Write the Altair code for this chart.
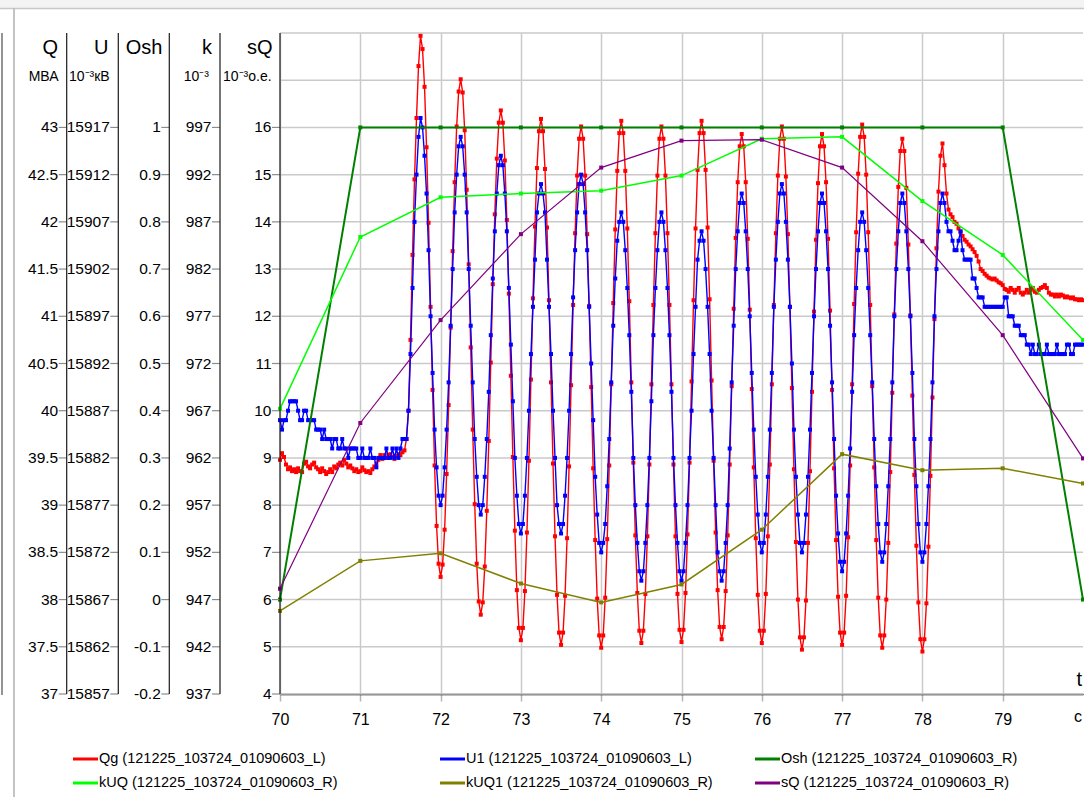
import altair as alt
import numpy as np
import pandas as pd

# ---------------- data ----------------
DT = 0.025          # sampling step of Qg and U1, s
T_START = 70

# Qg, MBA (left scale Q)
qg = [
    39.48, 39.55, 39.51, 39.43, 39.38, 39.40, 39.36, 39.38, 39.35, 39.39,
    39.36, 39.35, 39.44, 39.46, 39.41, 39.39, 39.43, 39.45, 39.40, 39.38,
    39.35, 39.39, 39.36, 39.33, 39.35, 39.38, 39.35, 39.41, 39.39, 39.43,
    39.45, 39.42, 39.48, 39.44, 39.40, 39.42, 39.39, 39.36, 39.38, 39.35,
    39.36, 39.40, 39.37, 39.35, 39.36, 39.34, 39.38, 39.41, 39.44, 39.48,
    39.53, 39.49, 39.53, 39.50, 39.53, 39.54, 39.51, 39.49, 39.52, 39.54,
    39.53, 39.56, 39.58, 39.70, 40.00, 40.75, 41.65, 42.45, 43.10, 43.65,
    43.97, 43.83, 43.43, 42.79, 41.99, 41.10, 40.22, 39.42, 38.78, 38.38,
    38.24, 38.37, 38.74, 39.33, 40.06, 40.88, 41.69, 42.42, 43.01, 43.38,
    43.51, 43.37, 42.97, 42.34, 41.55, 40.67, 39.80, 39.01, 38.38, 37.98,
    37.84, 37.97, 38.35, 38.94, 39.68, 40.51, 41.34, 42.08, 42.67, 43.05,
    43.18, 43.05, 42.65, 42.02, 41.24, 40.37, 39.51, 38.73, 38.10, 37.70,
    37.57, 37.70, 38.09, 38.71, 39.47, 40.33, 41.19, 41.95, 42.57, 42.96,
    43.09, 42.96, 42.56, 41.94, 41.17, 40.30, 39.44, 38.67, 38.05, 37.65,
    37.52, 37.65, 38.04, 38.65, 39.41, 40.27, 41.12, 41.88, 42.49, 42.88,
    43.01, 42.88, 42.49, 41.87, 41.11, 40.25, 39.39, 38.63, 38.01, 37.62,
    37.49, 37.62, 38.02, 38.64, 39.42, 40.28, 41.14, 41.92, 42.54, 42.94,
    43.07, 42.94, 42.54, 41.93, 41.16, 40.30, 39.45, 38.68, 38.07, 37.67,
    37.54, 37.67, 38.06, 38.67, 39.43, 40.28, 41.12, 41.88, 42.49, 42.88,
    43.01, 42.88, 42.49, 41.88, 41.12, 40.28, 39.43, 38.67, 38.06, 37.68,
    37.55, 37.68, 38.07, 38.69, 39.45, 40.31, 41.17, 41.93, 42.55, 42.94,
    43.07, 42.94, 42.55, 41.94, 41.18, 40.32, 39.47, 38.71, 38.10, 37.71,
    37.58, 37.71, 38.09, 38.68, 39.43, 40.26, 41.08, 41.83, 42.42, 42.80,
    42.93, 42.80, 42.42, 41.82, 41.07, 40.23, 39.40, 38.65, 38.05, 37.67,
    37.54, 37.67, 38.06, 38.67, 39.43, 40.28, 41.12, 41.88, 42.49, 42.88,
    43.01, 42.88, 42.48, 41.87, 41.10, 40.24, 39.38, 38.61, 38.00, 37.60,
    37.47, 37.60, 37.99, 38.60, 39.36, 40.20, 41.05, 41.81, 42.41, 42.80,
    42.93, 42.80, 42.42, 41.82, 41.06, 40.22, 39.39, 38.63, 38.03, 37.65,
    37.52, 37.65, 38.04, 38.66, 39.42, 40.28, 41.13, 41.89, 42.51, 42.90,
    43.03, 42.90, 42.50, 41.89, 41.12, 40.26, 39.40, 38.63, 38.02, 37.62,
    37.49, 37.62, 38.00, 38.60, 39.35, 40.19, 41.02, 41.77, 42.37, 42.75,
    42.88, 42.75, 42.36, 41.76, 41.01, 40.16, 39.32, 38.57, 37.97, 37.58,
    37.45, 37.58, 37.96, 38.56, 39.31, 40.14, 40.97, 41.72, 42.32, 42.70,
    42.83, 42.60, 42.30, 42.13, 42.08, 42.05, 42.00, 41.98, 41.93, 41.89,
    41.85, 41.81, 41.79, 41.76, 41.74, 41.71, 41.68, 41.64, 41.58, 41.50,
    41.48, 41.45, 41.43, 41.41, 41.40, 41.39, 41.40, 41.38, 41.36, 41.35,
    41.33, 41.29, 41.28, 41.26, 41.30, 41.28, 41.25, 41.28, 41.30, 41.25,
    41.23, 41.25, 41.28, 41.25, 41.28, 41.30, 41.26, 41.25, 41.28, 41.30,
    41.31, 41.33, 41.30, 41.25, 41.23, 41.23, 41.21, 41.23, 41.21, 41.23,
    41.22, 41.20, 41.21, 41.20, 41.19, 41.20, 41.18, 41.18, 41.17, 41.18,
    41.17,
]

# U1, 10^-3 kV (left scale U)
u1 = [
    15886, 15885, 15886, 15886, 15887, 15888, 15888, 15888, 15888, 15887,
    15886, 15886, 15887, 15887, 15886, 15886, 15886, 15886, 15885, 15885,
    15885, 15884, 15885, 15884, 15884, 15884, 15883, 15884, 15884, 15883,
    15883, 15884, 15883, 15883, 15882, 15883, 15883, 15883, 15883, 15882,
    15882, 15883, 15882, 15882, 15882, 15883, 15882, 15882, 15881, 15882,
    15882, 15882, 15882, 15883, 15882, 15882, 15883, 15882, 15883, 15882,
    15883, 15884, 15884, 15884, 15887, 15893, 15900, 15907, 15912, 15916,
    15918, 15917, 15914, 15910, 15904, 15897, 15891, 15885, 15881, 15878,
    15877, 15878, 15881, 15885, 15890, 15896, 15902, 15908, 15912, 15915,
    15916, 15915, 15912, 15908, 15902, 15896, 15890, 15884, 15880, 15877,
    15876, 15877, 15880, 15884, 15889, 15895, 15901, 15906, 15910, 15913,
    15914, 15913, 15910, 15906, 15900, 15894, 15888, 15882, 15878, 15875,
    15874, 15875, 15878, 15882, 15887, 15893, 15898, 15903, 15908, 15910,
    15911, 15910, 15908, 15903, 15898, 15893, 15887, 15882, 15877, 15875,
    15874, 15875, 15878, 15882, 15887, 15893, 15899, 15904, 15908, 15911,
    15912, 15911, 15908, 15904, 15898, 15892, 15886, 15880, 15876, 15873,
    15872, 15873, 15875, 15879, 15884, 15890, 15896, 15901, 15905, 15907,
    15908, 15907, 15904, 15900, 15895, 15889, 15882, 15877, 15873, 15870,
    15869, 15870, 15873, 15877, 15882, 15888, 15895, 15900, 15904, 15907,
    15908, 15907, 15904, 15900, 15895, 15889, 15882, 15877, 15873, 15870,
    15869, 15870, 15873, 15877, 15882, 15887, 15893, 15898, 15903, 15905,
    15906, 15905, 15902, 15898, 15893, 15887, 15882, 15877, 15872, 15870,
    15869, 15870, 15873, 15877, 15883, 15890, 15896, 15902, 15906, 15909,
    15910, 15909, 15906, 15902, 15897, 15891, 15885, 15880, 15876, 15873,
    15872, 15873, 15876, 15880, 15885, 15891, 15898, 15903, 15907, 15910,
    15911, 15910, 15907, 15903, 15898, 15892, 15885, 15880, 15876, 15873,
    15872, 15873, 15876, 15880, 15885, 15891, 15897, 15902, 15906, 15909,
    15910, 15909, 15906, 15902, 15896, 15890, 15884, 15878, 15874, 15871,
    15870, 15871, 15874, 15878, 15883, 15889, 15895, 15900, 15904, 15907,
    15908, 15907, 15904, 15900, 15895, 15890, 15884, 15879, 15875, 15872,
    15871, 15872, 15875, 15879, 15884, 15890, 15897, 15902, 15906, 15909,
    15910, 15909, 15906, 15902, 15897, 15891, 15884, 15879, 15875, 15872,
    15871, 15872, 15875, 15879, 15884, 15890, 15897, 15902, 15906, 15909,
    15910, 15909, 15907, 15906, 15906, 15905, 15904, 15904, 15905, 15906,
    15904, 15903, 15903, 15903, 15903, 15901, 15901, 15900, 15899, 15899,
    15899, 15898, 15898, 15898, 15898, 15898, 15898, 15898, 15898, 15898,
    15898, 15899, 15899, 15897, 15897, 15897, 15896, 15896, 15896, 15895,
    15895, 15895, 15894, 15894, 15893, 15894, 15893, 15893, 15894, 15893,
    15893, 15893, 15894, 15893, 15893, 15893, 15893, 15894, 15893, 15893,
    15893, 15893, 15894, 15894, 15893, 15893, 15894, 15894, 15894, 15894,
    15894,
]

# once-per-second series
t_sparse = [70, 71, 72, 73, 74, 75, 76, 77, 78, 79, 80]
osh = [0, 1, 1, 1, 1, 1, 1, 1, 1, 1, 0]
kuq = [967.2, 985.4, 989.6, 990.0, 990.3, 991.9, 995.8, 996.0, 989.2, 983.5, 974.5]
kuq1 = [945.8, 951.1, 951.9, 948.7, 946.7, 948.6, 954.4, 962.4, 960.7, 960.9, 959.3]
sq = [6.23, 9.74, 11.92, 13.74, 15.15, 15.72, 15.74, 15.15, 13.59, 11.60, 8.99]

# axes
x_ticks = [70, 71, 72, 73, 74, 75, 76, 77, 78, 79]
q_ticks = [37, 37.5, 38, 38.5, 39, 39.5, 40, 40.5, 41, 41.5, 42, 42.5, 43]
u_ticks = [15857, 15862, 15867, 15872, 15877, 15882, 15887, 15892, 15897, 15902, 15907, 15912, 15917]
osh_ticks = [-0.2, -0.1, 0, 0.1, 0.2, 0.3, 0.4, 0.5, 0.6, 0.7, 0.8, 0.9, 1]
k_ticks = [937, 942, 947, 952, 957, 962, 967, 972, 977, 982, 987, 992, 997]
sq_ticks = [4, 5, 6, 7, 8, 9, 10, 11, 12, 13, 14, 15, 16]
grid_levels = [4, 5, 6, 7, 8, 9, 10, 11, 12, 13, 14, 15, 16, 17, 18]

axis_titles = ["Q", "U", "Osh", "k", "sQ"]
series_names = [
    "Qg (121225_103724_01090603_L)", "U1 (121225_103724_01090603_L)",
    "Osh (121225_103724_01090603_R)", "kUQ (121225_103724_01090603_R)",
    "kUQ1 (121225_103724_01090603_R)", "sQ (121225_103724_01090603_R)",
]
series_colors = ["#ff0000", "#0000ff", "#008000", "#00ff00", "#808000", "#800080"]

# ---------------- layout ----------------
W, H = 803, 661
PAD_L, PAD_T = 280, 33
FONT = "Liberation Sans, Arial, sans-serif"
XS = alt.Scale(domain=[70, 80], nice=False, zero=False)
YS = alt.Scale(domain=[4, 18], nice=False, zero=False)
X_AXIS = alt.Axis(values=x_ticks, grid=True, gridColor="#cacaca", gridWidth=1.5,
                  domainColor="#000000", domainWidth=1.5, tickColor="#b4b4b4", tickWidth=1.5,
                  tickSize=7, labelFont=FONT, labelFontSize=16, labelColor="#000000",
                  labelPadding=10, labelFlush=False, title=None)


def xd(page_x):
    return 70 + (page_x - PAD_L) * 10 / W


def yd(page_y):
    return 18 - (page_y - PAD_T) * 14 / H


def to_grid(v, ticks):
    return sq_ticks[0] + (v - ticks[0]) * (sq_ticks[-1] - sq_ticks[0]) / (ticks[-1] - ticks[0])


def X(field="x"):
    return alt.X(f"{field}:Q", scale=XS, axis=X_AXIS)


def Y(field="y"):
    return alt.Y(f"{field}:Q", scale=YS, axis=None)


def text_layer(df, align, size, weight="normal"):
    return alt.Chart(df).mark_text(
        align=align, baseline="middle", font=FONT, fontSize=size, fontWeight=weight,
        color="#000000").encode(x=X(), y=Y(), text="s:N")


# ---------------- layers ----------------
layers = []

# window decoration (app frame)
frame = pd.DataFrame({"x": [xd(0)], "x2": [xd(1084)], "y": [yd(0)], "y2": [yd(8)]})
layers.append(alt.Chart(frame).mark_rect(color="#f3f3f3").encode(x=X(), x2="x2:Q", y=Y(), y2="y2:Q"))
fl = pd.DataFrame({"x": [xd(0), xd(14), xd(2)], "x2": [xd(1084), xd(14), xd(2)],
                   "y": [yd(8.5), yd(8.5), yd(33)], "y2": [yd(8.5), yd(797), yd(695)],
                   "c": ["#c8c8c8", "#b0b0b0", "#707070"]})
layers.append(alt.Chart(fl).mark_rule(strokeWidth=1.5).encode(
    x=X(), x2="x2:Q", y=Y(), y2="y2:Q", color=alt.Color("c:N", scale=None)))

# horizontal grid
layers.append(alt.Chart(pd.DataFrame({"g": grid_levels})).mark_rule(
    color="#cacaca", strokeWidth=1.5).encode(y=Y("g"), x=alt.value(0), x2=alt.value(W)))

# dense series
dq = pd.DataFrame({"t": T_START + DT * np.arange(len(qg)), "g": [to_grid(v, q_ticks) for v in qg]})
du = pd.DataFrame({"t": T_START + DT * np.arange(len(u1)), "g": [to_grid(v, u_ticks) for v in u1]})

for d, col in [(dq, series_colors[0]), (du, series_colors[1])]:
    layers.append(alt.Chart(d).mark_line(
        color=col, strokeWidth=1.4,
        point=alt.OverlayMarkDef(shape="square", size=16, filled=True, color=col)
    ).encode(x=X("t"), y=Y("g")))

# sparse series
sparse = [
    ([to_grid(v, osh_ticks) for v in osh], series_colors[2], 2.0),
    ([to_grid(v, k_ticks) for v in kuq], series_colors[3], 1.5),
    ([to_grid(v, k_ticks) for v in kuq1], series_colors[4], 1.5),
    ([to_grid(v, sq_ticks) for v in sq], series_colors[5], 1.2),
]
for vals, col, sw in sparse:
    d = pd.DataFrame({"t": t_sparse, "g": vals})
    layers.append(alt.Chart(d).mark_line(
        color=col, strokeWidth=sw,
        point=alt.OverlayMarkDef(shape="square", size=16, filled=True, color=col)
    ).encode(x=X("t"), y=Y("g")))

# left value columns (Q, U, Osh, k, sQ)
col_line_px = [66.7, 118.3, 169.3, 220, 280]
rows = []
for ticks, line in zip([q_ticks, u_ticks, osh_ticks, k_ticks, sq_ticks], col_line_px):
    for j, v in enumerate(ticks):
        rows.append({"g": sq_ticks[j], "label": f"{v:g}",
                     "xl": xd(line - 8.5), "xa": xd(line - 8), "xb": xd(line)})
lab = pd.DataFrame(rows)
layers.append(alt.Chart(lab).mark_rule(color="#8c8c8c", strokeWidth=1.2).encode(
    x=X("xa"), x2="xb:Q", y=Y("g")))
layers.append(alt.Chart(lab).mark_text(
    align="right", baseline="middle", font=FONT, fontSize=15.5, color="#000000").encode(
    x=X("xl"), y=Y("g"), text="label:N"))
cl = pd.DataFrame({"x": [xd(p) for p in col_line_px]})
layers.append(alt.Chart(cl).mark_rule(color="#1a1a1a", strokeWidth=1.2).encode(
    x=X(), y=alt.value(0), y2=alt.value(H)))

# column titles and units
tit = pd.DataFrame({"x": [xd(58), xd(108.5), xd(162.5), xd(212), xd(272.5)],
                    "y": [yd(48)] * 5, "s": axis_titles})
layers.append(text_layer(tit, "right", 20))
unit_r = pd.DataFrame({"x": [xd(58.5), xd(209)], "y": [yd(77), yd(77)], "s": ["МВА", "10⁻³"]})
layers.append(text_layer(unit_r, "right", 14))
unit_l = pd.DataFrame({"x": [xd(69), xd(223)], "y": [yd(77), yd(77)], "s": ["10⁻³кВ", "10⁻³о.е."]})
layers.append(text_layer(unit_l, "left", 14))

# time axis name and unit
layers.append(text_layer(pd.DataFrame({"x": [xd(1082)], "y": [yd(680)], "s": ["t"]}), "right", 20))
layers.append(text_layer(pd.DataFrame({"x": [xd(1082)], "y": [yd(717)], "s": ["с"]}), "right", 16))

# legend (2 rows x 3 columns)
leg_col_px = [73, 440, 755]
leg_row_px = [759, 783]
lg = []
for i, (name, col) in enumerate(zip(series_names, series_colors)):
    sx = leg_col_px[i % 3]
    sy = leg_row_px[i // 3]
    lg.append({"x": xd(sx), "x2": xd(sx + 25), "xt": xd(sx + 26), "y": yd(sy), "s": name, "c": col})
lgd = pd.DataFrame(lg)
layers.append(alt.Chart(lgd).mark_rule(strokeWidth=3).encode(
    x=X(), x2="x2:Q", y=Y(), color=alt.Color("c:N", scale=None)))
layers.append(alt.Chart(lgd).mark_text(
    align="left", baseline="middle", font=FONT, fontSize=14.5, color="#000000").encode(
    x=X("xt"), y=Y(), text="s:N"))

chart = alt.layer(*layers).properties(
    width=W, height=H,
    padding={"left": PAD_L, "top": PAD_T, "right": 1, "bottom": 797 - PAD_T - H},
    autosize=alt.AutoSizeParams(type="none"),
    background="#ffffff",
).configure_view(stroke=None)

chart.save("out.html", embed_options={"renderer": "svg", "actions": False})
